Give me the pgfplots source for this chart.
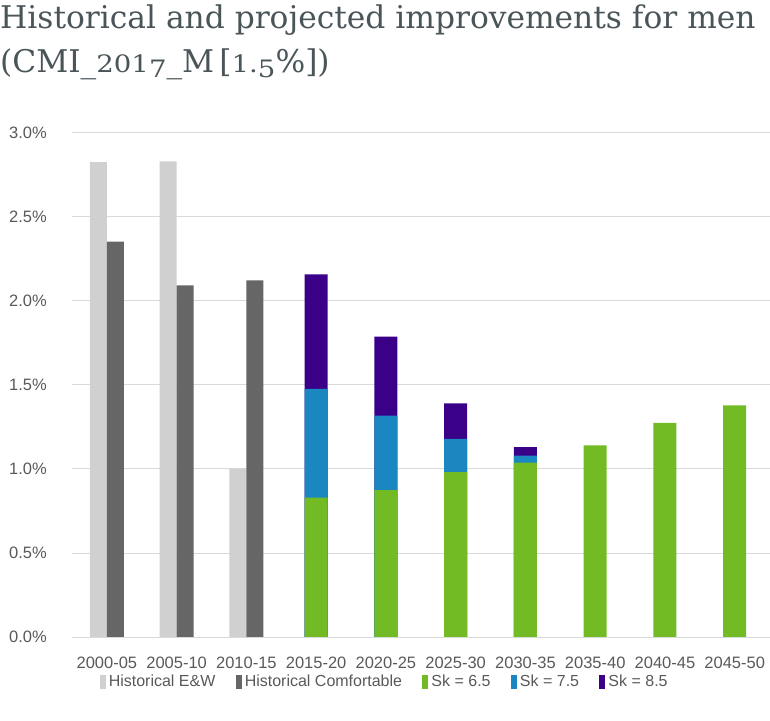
\documentclass[border=0pt]{standalone}
\usepackage{fontspec}
\setmainfont{Liberation Sans}
\newfontfamily\titlefont{DejaVu Serif}
\usepackage{pgfplots}
\usepackage{pgfplotstable}
\pgfplotsset{compat=1.18}

\definecolor{ewgray}{HTML}{D0D0D0}
\definecolor{comfgray}{HTML}{666666}
\definecolor{skgreen}{HTML}{72BB24}
\definecolor{skblue}{HTML}{1A87C0}
\definecolor{skpurple}{HTML}{3A0088}
\definecolor{gridc}{HTML}{D9D9D9}
\definecolor{txtc}{HTML}{595959}
\definecolor{titlec}{HTML}{4A5559}

% old-style looking figures for the title
\newcommand\osf[1]{\scalebox{1.15}[1]{\fontsize{24}{24}\selectfont #1}}
\newcommand\osd[1]{\raisebox{-5pt}{\osf{#1}}}

% historical improvements (per cent)
\pgfplotstableread{
x ew comf
0 2.825 2.351
1 2.829 2.091
2 1.000 2.121
}\histtable

% projected: Sk = 6.5 base, increments for Sk = 7.5 and Sk = 8.5
\pgfplotstableread{
x a
3 0.829
4 0.873
5 0.980
6 1.037
7 1.139
8 1.274
9 1.377
}\skgreen

\pgfplotstableread{
x a b c
3 0.829 0.647 0.681
4 0.873 0.444 0.469
5 0.980 0.199 0.211
6 1.037 0.042 0.050
}\skextra

\begin{document}
\begin{tikzpicture}
\begin{axis}[
  width=698pt, height=504.6pt, scale only axis,
  xmin=-0.5, xmax=9.5,
  ymin=0, ymax=3,
  ytick={0,0.5,...,3},
  xtick={0,...,9},
  xticklabels={2000-05,2005-10,2010-15,2015-20,2020-25,2025-30,2030-35,2035-40,2040-45,2045-50},
  yticklabel={\pgfmathprintnumber[fixed,fixed zerofill,precision=1]{\tick}\%},
  /pgf/number format/assume math mode=true,
  ymajorgrids=true,
  grid style={draw=gridc, line width=0.8pt},
  axis line style={draw=none},
  tick style={draw=none},
  ticklabel style={font=\fontsize{16.5}{18}\selectfont, text=txtc},
  yticklabel style={inner sep=0pt, anchor=east, xshift=-25pt},
  xticklabel style={inner sep=0pt, anchor=north, yshift=-20pt},
  legend columns=5,
  legend style={draw=none, fill=none, at={(0.448,-0.089)}, anchor=center,
    font=\fontsize{16}{18}\selectfont, text=txtc,
    /tikz/every even column/.append style={column sep=18pt}},
  legend image code/.code={\fill[#1, draw=none] (0pt,-7pt) rectangle (6pt,7pt);
    \path (0pt,0pt) (7pt,0pt);},
]
% historical bars, side by side
\addplot[ybar, bar width=17pt, bar shift=-8.5pt, fill=ewgray, draw=none, forget plot]
  table[x=x, y=ew]{\histtable};
\addplot[ybar, bar width=17pt, bar shift=8.5pt, fill=comfgray, draw=none, forget plot]
  table[x=x, y=comf]{\histtable};

% projected bars, stacked by drawing the tallest first
\addplot[ybar, bar width=23pt, bar shift=0pt, fill=skpurple, draw=none, forget plot]
  table[x=x, y expr=\thisrow{a}+\thisrow{b}+\thisrow{c}]{\skextra};
\addplot[ybar, bar width=23pt, bar shift=0pt, fill=skblue, draw=none, forget plot]
  table[x=x, y expr=\thisrow{a}+\thisrow{b}]{\skextra};
\addplot[ybar, bar width=23pt, bar shift=0pt, fill=skgreen, draw=none, forget plot]
  table[x=x, y=a]{\skgreen};

\addlegendimage{fill=ewgray}\addlegendentry{Historical E\&W}
\addlegendimage{fill=comfgray}\addlegendentry{Historical Comfortable}
\addlegendimage{fill=skgreen}\addlegendentry{Sk = 6.5}
\addlegendimage{fill=skblue}\addlegendentry{Sk = 7.5}
\addlegendimage{fill=skpurple}\addlegendentry{Sk = 8.5}
\end{axis}
\node[anchor=base west, inner sep=0pt, text=titlec, font=\titlefont\fontsize{31.3}{36}\selectfont]
  at (-72pt,608.3pt) {Historical and projected improvements for men};
\node[anchor=base west, inner sep=0pt, text=titlec, font=\titlefont\fontsize{31.3}{36}\selectfont]
  at (-72pt,564.3pt) {(CMI\_\osf{201}\osd{7}\_M\,[\osf{1.}\osd{5}\%])};
\path[use as bounding box] (-72pt,-83.7pt) rectangle (698pt,637.3pt);
\end{tikzpicture}
\end{document}
